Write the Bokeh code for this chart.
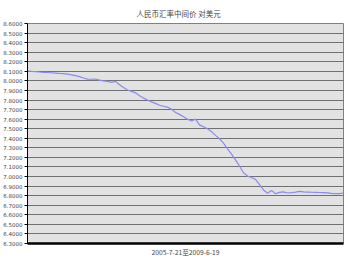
from bokeh.plotting import figure
from bokeh.models import FixedTicker, NumeralTickFormatter, Range1d, Title
from bokeh.embed import file_html
from bokeh.resources import INLINE

title_text = "人民币汇率中间价 对美元"
x_label = "2005-7-21至2009-6-19"

y_ticks = [6.3, 6.4, 6.5, 6.6, 6.7, 6.8, 6.9, 7.0, 7.1, 7.2, 7.3, 7.4, 7.5,
           7.6, 7.7, 7.8, 7.9, 8.0, 8.1, 8.2, 8.3, 8.4, 8.5, 8.6]

rate = [8.105, 8.100, 8.097, 8.093, 8.090, 8.088, 8.085, 8.082, 8.078, 8.075,
        8.070, 8.063, 8.055, 8.045, 8.030, 8.018, 8.017, 8.020, 8.008, 8.000,
        7.995, 7.985, 7.995, 7.960, 7.930, 7.905, 7.890, 7.875, 7.845, 7.820,
        7.800, 7.780, 7.765, 7.745, 7.735, 7.725, 7.705, 7.670, 7.650, 7.625,
        7.600, 7.580, 7.600, 7.540, 7.520, 7.500, 7.470, 7.430, 7.395, 7.350,
        7.290, 7.235, 7.175, 7.110, 7.040, 7.005, 6.990, 6.970, 6.915, 6.860,
        6.825, 6.855, 6.820, 6.835, 6.840, 6.828, 6.832, 6.838, 6.845, 6.840,
        6.838, 6.836, 6.835, 6.833, 6.832, 6.830, 6.825, 6.822, 6.822, 6.828]
idx = list(range(len(rate)))

p = figure(width=348, height=261, output_backend="svg", toolbar_location=None,
           x_range=Range1d(0, len(rate) - 1), y_range=Range1d(6.3, 8.6),
           min_border_left=24, min_border_right=5, min_border_top=23,
           min_border_bottom=18, background_fill_color="#e2e2e2",
           border_fill_color="white", outline_line_color="#808080")
p.title = Title(text=title_text, text_font="Noto Sans CJK SC", text_font_size="7.5px",
                text_font_style="normal", align="left", offset=109, standoff=5,
                vertical_align="top")

p.line(idx, rate, line_color="#8a8aee", line_width=1.2)

p.xgrid.visible = False
p.ygrid.grid_line_color = "#707070"
p.ygrid.grid_line_width = 1

ya = p.yaxis[0]
ya.ticker = FixedTicker(ticks=y_ticks)
ya.formatter = NumeralTickFormatter(format="0.0000")
ya.major_label_text_font = "DejaVu Sans"
ya.major_label_text_font_size = "5.5px"
ya.major_label_standoff = 2
ya.major_tick_out = 3
ya.major_tick_in = 0
ya.minor_tick_line_color = None
ya.axis_line_color = "black"
ya.major_tick_line_color = "black"

xa = p.xaxis[0]
xa.ticker = FixedTicker(ticks=[])
xa.major_tick_line_color = None
xa.minor_tick_line_color = None
xa.major_label_text_font_size = "0px"
xa.axis_line_color = "black"
xa.axis_line_width = 2.5
xa.axis_label = x_label
xa.axis_label_text_font = "Noto Sans CJK SC"
xa.axis_label_text_font_size = "6.7px"
xa.axis_label_text_font_style = "normal"
xa.axis_label_standoff = 3

open("out.html", "w").write(file_html(p, INLINE))
